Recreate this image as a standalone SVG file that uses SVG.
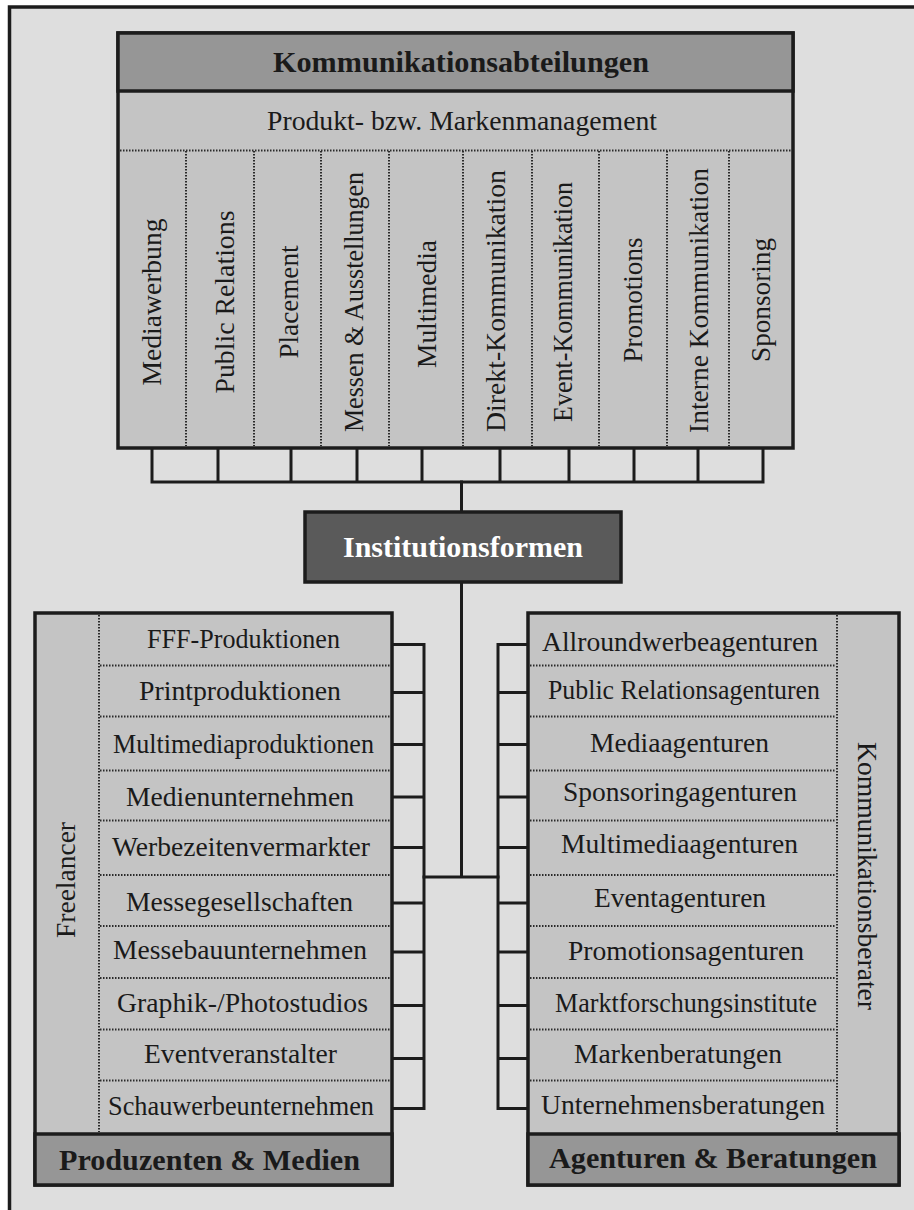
<svg xmlns="http://www.w3.org/2000/svg" width="914" height="1210" viewBox="0 0 914 1210">
  <style>
    .frame { fill: #dedede; stroke: #1c1c1c; stroke-width: 3.5; }
    .box { stroke: #1c1c1c; stroke-width: 3.5; }
    .head { fill: #969696; }
    .body { fill: #c4c4c4; }
    .dark { fill: #5a5a5a; }
    .dot { stroke: #2a2a2a; stroke-width: 2; stroke-dasharray: 1.5 1.5; fill: none; }
    .wire { stroke: #1c1c1c; stroke-width: 3; fill: none; stroke-linecap: square; }
    .t { font-family: "Liberation Serif", "Times New Roman", serif; font-size: 27.5px; fill: #1a1a1a; text-anchor: middle; }
    .b { font-family: "Liberation Serif", "Times New Roman", serif; font-size: 30px; font-weight: bold; fill: #1a1a1a; text-anchor: middle; }
    .w { fill: #ffffff; }
  </style>

  <!-- page frame -->
  <rect class="frame" x="9.5" y="7" width="920" height="1220"/>

  <!-- connectors -->
  <g id="connectors">
    <!-- comb below the departments box -->
    <path class="wire" d="M152 448V482M218 448V482M291 448V482M357 448V482M422 448V482M500 448V482M569 448V482M634 448V482M698 448V482M763 448V482M152 482H763"/>
    <path class="wire" d="M461.5 482V512"/>
    <!-- trunk down from Institutionsformen -->
    <path class="wire" d="M461.5 582V877M424 877H498"/>
    <!-- left comb -->
    <path class="wire" d="M424 644.5V1108.5M392 644.5H424M392 692.5H424M392 744.5H424M392 797H424M392 847.5H424M392 903H424M392 952H424M392 1005.5H424M392 1058.5H424M392 1108.5H424"/>
    <!-- right comb -->
    <path class="wire" d="M498 644.5V1108.5M498 644.5H528M498 692.5H528M498 744.5H528M498 797H528M498 847.5H528M498 903H528M498 952H528M498 1005.5H528M498 1058.5H528M498 1108.5H528"/>
  </g>

  <!-- Kommunikationsabteilungen -->
  <g id="node-kommunikationsabteilungen">
    <rect class="box body" x="118" y="33" width="675" height="415"/>
    <rect class="box head" x="118" y="33" width="675" height="58"/>
    <text class="b" x="461" y="72" textLength="376" lengthAdjust="spacingAndGlyphs">Kommunikationsabteilungen</text>
    <text class="t" x="462" y="130" textLength="390" lengthAdjust="spacingAndGlyphs">Produkt- bzw. Markenmanagement</text>
    <path class="dot" d="M120 150.5H791M186 151V446M254 151V446M321 151V446M389 151V446M463 151V446M532 151V446M599 151V446M667 151V446M729 151V446"/>
    <text class="t" transform="translate(161 302) rotate(-90)" textLength="167" lengthAdjust="spacingAndGlyphs">Mediawerbung</text>
    <text class="t" transform="translate(234 302) rotate(-90)" textLength="183" lengthAdjust="spacingAndGlyphs">Public Relations</text>
    <text class="t" transform="translate(298 302) rotate(-90)" textLength="113" lengthAdjust="spacingAndGlyphs">Placement</text>
    <text class="t" transform="translate(363 302) rotate(-90)" textLength="260" lengthAdjust="spacingAndGlyphs">Messen &amp; Ausstellungen</text>
    <text class="t" transform="translate(436 304) rotate(-90)" textLength="128" lengthAdjust="spacingAndGlyphs">Multimedia</text>
    <text class="t" transform="translate(505 301) rotate(-90)" textLength="262" lengthAdjust="spacingAndGlyphs">Direkt-Kommunikation</text>
    <text class="t" transform="translate(572 302) rotate(-90)" textLength="240" lengthAdjust="spacingAndGlyphs">Event-Kommunikation</text>
    <text class="t" transform="translate(642 300) rotate(-90)" textLength="125" lengthAdjust="spacingAndGlyphs">Promotions</text>
    <text class="t" transform="translate(708 300.5) rotate(-90)" textLength="265" lengthAdjust="spacingAndGlyphs">Interne Kommunikation</text>
    <text class="t" transform="translate(770 300) rotate(-90)" textLength="124" lengthAdjust="spacingAndGlyphs">Sponsoring</text>
  </g>

  <!-- Institutionsformen -->
  <g id="node-institutionsformen">
    <rect class="box dark" x="305" y="512" width="316" height="70"/>
    <text class="b w" x="463" y="557" textLength="240" lengthAdjust="spacingAndGlyphs">Institutionsformen</text>
  </g>

  <!-- Produzenten & Medien -->
  <g id="node-produzenten-medien">
    <rect class="box body" x="35" y="613" width="357" height="572"/>
    <rect class="box head" x="35" y="1134" width="357" height="51"/>
    <text class="b" x="209.5" y="1170" textLength="301" lengthAdjust="spacingAndGlyphs">Produzenten &amp; Medien</text>
    <path class="dot" d="M99 615V1132M100 665.5H390M100 716.5H390M100 770.5H390M100 820.5H390M100 875H390M100 926H390M100 978H390M100 1029.5H390M100 1080.5H390"/>
    <text class="t" transform="translate(75 880) rotate(-90)">Freelancer</text>
    <text class="t" x="243.5" y="648" textLength="193" lengthAdjust="spacingAndGlyphs">FFF-Produktionen</text>
    <text class="t" x="240" y="700" textLength="202" lengthAdjust="spacingAndGlyphs">Printproduktionen</text>
    <text class="t" x="243.5" y="753" textLength="261" lengthAdjust="spacingAndGlyphs">Multimediaproduktionen</text>
    <text class="t" x="240" y="806" textLength="228" lengthAdjust="spacingAndGlyphs">Medienunternehmen</text>
    <text class="t" x="241" y="856" textLength="258" lengthAdjust="spacingAndGlyphs">Werbezeitenvermarkter</text>
    <text class="t" x="239.5" y="911" textLength="227" lengthAdjust="spacingAndGlyphs">Messegesellschaften</text>
    <text class="t" x="240" y="959" textLength="254" lengthAdjust="spacingAndGlyphs">Messebauunternehmen</text>
    <text class="t" x="242.5" y="1012" textLength="251" lengthAdjust="spacingAndGlyphs">Graphik-/Photostudios</text>
    <text class="t" x="240.5" y="1063" textLength="193" lengthAdjust="spacingAndGlyphs">Eventveranstalter</text>
    <text class="t" x="241" y="1115" textLength="266" lengthAdjust="spacingAndGlyphs">Schauwerbeunternehmen</text>
  </g>

  <!-- Agenturen & Beratungen -->
  <g id="node-agenturen-beratungen">
    <rect class="box body" x="528" y="613" width="371" height="572"/>
    <rect class="box head" x="528" y="1134" width="371" height="51"/>
    <text class="b" x="713" y="1168" textLength="328" lengthAdjust="spacingAndGlyphs">Agenturen &amp; Beratungen</text>
    <path class="dot" d="M837 615V1132M530 665.5H836M530 716.5H836M530 770.5H836M530 820.5H836M530 875H836M530 926H836M530 978H836M530 1029.5H836M530 1080.5H836"/>
    <text class="t" transform="translate(858 876) rotate(90)" textLength="268" lengthAdjust="spacingAndGlyphs">Kommunikationsberater</text>
    <text class="t" x="680" y="651" textLength="276" lengthAdjust="spacingAndGlyphs">Allroundwerbeagenturen</text>
    <text class="t" x="684" y="699" textLength="272" lengthAdjust="spacingAndGlyphs">Public Relationsagenturen</text>
    <text class="t" x="679.5" y="752" textLength="179" lengthAdjust="spacingAndGlyphs">Mediaagenturen</text>
    <text class="t" x="680" y="801" textLength="234" lengthAdjust="spacingAndGlyphs">Sponsoringagenturen</text>
    <text class="t" x="679.5" y="853" textLength="237" lengthAdjust="spacingAndGlyphs">Multimediaagenturen</text>
    <text class="t" x="680" y="907" textLength="172" lengthAdjust="spacingAndGlyphs">Eventagenturen</text>
    <text class="t" x="686" y="960" textLength="236" lengthAdjust="spacingAndGlyphs">Promotionsagenturen</text>
    <text class="t" x="686" y="1012" textLength="262" lengthAdjust="spacingAndGlyphs">Marktforschungsinstitute</text>
    <text class="t" x="678" y="1063" textLength="208" lengthAdjust="spacingAndGlyphs">Markenberatungen</text>
    <text class="t" x="683" y="1114" textLength="284" lengthAdjust="spacingAndGlyphs">Unternehmensberatungen</text>
  </g>
</svg>
